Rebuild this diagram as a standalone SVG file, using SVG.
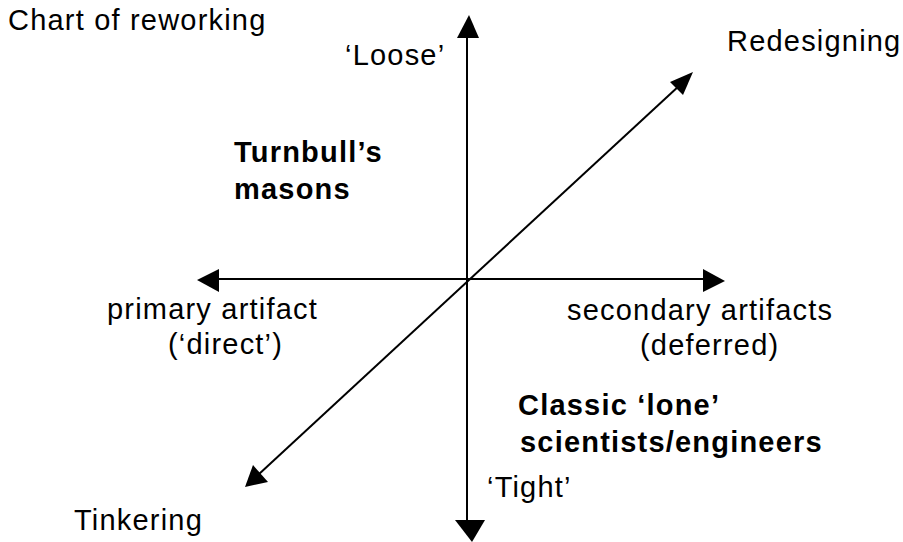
<svg xmlns="http://www.w3.org/2000/svg" width="903" height="542" viewBox="0 0 903 542">
<style>
text{font-family:"Liberation Sans",Arial,sans-serif;font-size:29px;fill:#000;letter-spacing:1.2px}
.b{font-weight:bold}
.ax{stroke:#000;stroke-width:2;fill:none}
.ah{fill:#000;stroke:none}
</style>
<rect width="903" height="542" fill="#fff"/>
<g id="connectors">
<line class="ax" x1="467" y1="35" x2="467" y2="522"/>
<polygon class="ah" points="469,15 457,38 479,38"/>
<polygon class="ah" points="455,520 485,520 472,542"/>
<line class="ax" x1="216" y1="279" x2="705" y2="279"/>
<polygon class="ah" points="197,280 219,269 219,292"/>
<polygon class="ah" points="725,281 703,269 703,292"/>
<line class="ax" x1="258" y1="475" x2="680" y2="85"/>
<polygon class="ah" points="693,72 670,82 683,95"/>
<polygon class="ah" points="245,487 253,465 268,482"/>
</g>
<g id="title"><text x="8" y="30">Chart of reworking</text></g>
<g id="loose"><text x="345" y="65">‘Loose’</text></g>
<g id="redesigning"><text x="727" y="51">Redesigning</text></g>
<g id="turnbull"><text class="b" x="234" y="162">Turnbull’s</text><text class="b" x="234" y="199">masons</text></g>
<g id="primary"><text x="107" y="319">primary artifact</text><text x="168" y="354">(‘direct’)</text></g>
<g id="secondary"><text x="567" y="320">secondary artifacts</text><text x="640" y="355">(deferred)</text></g>
<g id="classic"><text class="b" x="518" y="415">Classic ‘lone’</text><text class="b" x="520" y="452">scientists/engineers</text></g>
<g id="tight"><text x="487" y="497">‘Tight’</text></g>
<g id="tinkering"><text x="74" y="530">Tinkering</text></g>
</svg>
